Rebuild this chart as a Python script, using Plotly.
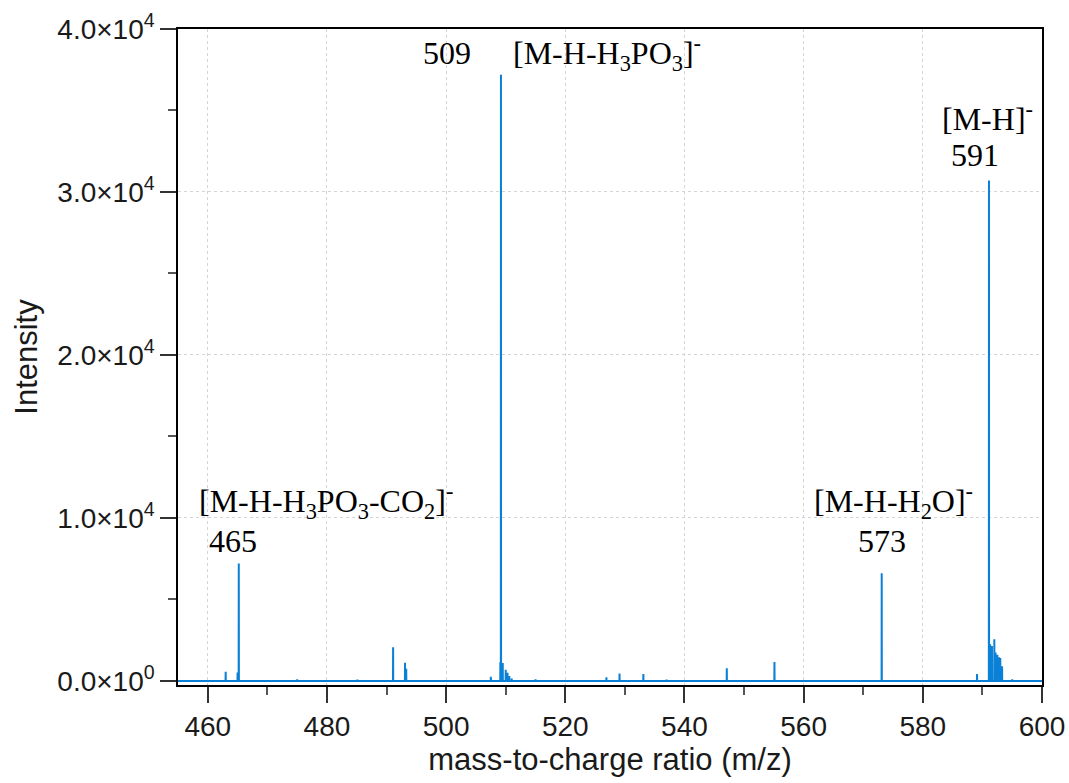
import plotly.graph_objects as go

# Peak list (m/z, intensity)
peak_mz = [463.0, 465.0, 465.2, 475.0, 485.1, 491.1, 493.1, 493.3, 507.5,
           509.1, 509.2, 509.5, 510.0, 510.3, 510.6, 511.0, 515.0, 526.9,
           529.1, 533.1, 537.0, 547.1, 555.1, 573.1, 589.1, 591.1, 591.3,
           591.6, 592.0, 592.2, 592.5, 592.8, 593.0, 593.3, 595.0]
peak_int = [560, 520, 7200, 100, 80, 2060, 1120, 740, 260,
            1150, 37200, 1100, 680, 500, 300, 150, 100, 220,
            460, 420, 90, 780, 1160, 6600, 430, 30700, 2250,
            2150, 2550, 1750, 1600, 1450, 1400, 900, 100]

x_range = [455.0, 600.0]
y_range = [-250, 40000]

x_ticks = [460, 480, 500, 520, 540, 560, 580, 600]
y_ticks = [0, 10000, 20000, 30000, 40000]
y_ticktext = ["0.0×10<sup>0</sup>", "1.0×10<sup>4</sup>", "2.0×10<sup>4</sup>",
              "3.0×10<sup>4</sup>", "4.0×10<sup>4</sup>"]

# annotation labels: (text, x in m/z, y in intensity)
ann_text = ["509", "[M-H-H<sub>3</sub>PO<sub>3</sub>]<sup>-</sup>",
            "[M-H]<sup>-</sup>", "591",
            "[M-H-H<sub>3</sub>PO<sub>3</sub>-CO<sub>2</sub>]<sup>-</sup>", "465",
            "[M-H-H<sub>2</sub>O]<sup>-</sup>", "573"]
ann_x = [500.2, 527.0, 590.8, 588.8, 479.8, 464.2, 575.0, 573.2]
ann_y = [38500, 38500, 34600, 32300, 11000, 8600, 11000, 8600]

# build stick spectrum from the peak list
pairs = sorted(zip(peak_mz, peak_int))
xs, ys = [x_range[0]], [0]
for mz, h in pairs:
    xs += [mz - 0.02, mz, mz + 0.02]
    ys += [0, h, 0]
xs.append(x_range[1])
ys.append(0)

fig = go.Figure()
fig.add_trace(go.Scatter(x=xs, y=ys, mode="lines",
                         line=dict(color="#0a80d6", width=2),
                         hoverinfo="skip", showlegend=False))

for t, x, y in zip(ann_text, ann_x, ann_y):
    fig.add_annotation(x=x, y=y, text=t, showarrow=False,
                       font=dict(family="Liberation Serif", size=32, color="black"),
                       xanchor="center", yanchor="middle")

axis_common = dict(showline=True, linecolor="black", linewidth=1.5, mirror=True,
                   ticks="outside", ticklen=16, tickwidth=1.5, tickcolor="#333",
                   showgrid=True, gridcolor="#d4d4d4", griddash="dot", gridwidth=1,
                   zeroline=False, automargin=False,
                   tickfont=dict(family="Liberation Sans", size=28, color="#1a1a1a"))

fig.update_xaxes(range=x_range, tickvals=x_ticks,
                 minor=dict(dtick=10, tick0=450, ticks="outside", ticklen=8,
                            tickwidth=1.5, tickcolor="#555", showgrid=False),
                 title=dict(text="mass-to-charge ratio (m/z)", standoff=6,
                            font=dict(family="Liberation Sans", size=31, color="#1a1a1a")),
                 **axis_common)
fig.update_yaxes(range=y_range, tickvals=y_ticks, ticktext=y_ticktext,
                 minor=dict(dtick=5000, tick0=0, ticks="outside", ticklen=8,
                            tickwidth=1.5, tickcolor="#555", showgrid=False),
                 title=dict(text="Intensity", standoff=10,
                            font=dict(family="Liberation Sans", size=31, color="#1a1a1a")),
                 **axis_common)

fig.update_layout(width=1069, height=783, plot_bgcolor="white", paper_bgcolor="white",
                  margin=dict(l=178, r=27, t=29, b=98))

fig.write_html("out.html")
